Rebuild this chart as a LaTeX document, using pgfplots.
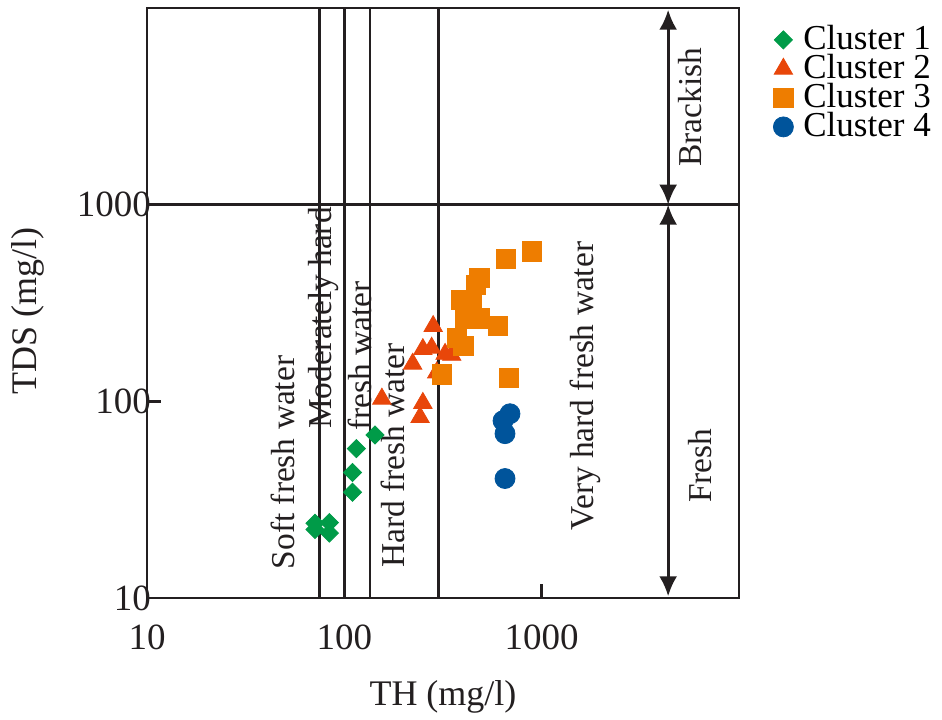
\documentclass[border=0pt]{standalone}
\usepackage{fontspec}
\setmainfont{Liberation Serif}
\usepackage{pgfplots}
\pgfplotsset{compat=1.18}
\usetikzlibrary{arrows.meta}
\definecolor{cgreen}{RGB}{0,155,72}
\definecolor{cred}{RGB}{232,70,10}
\definecolor{corange}{RGB}{238,125,0}
\definecolor{cblue}{RGB}{0,84,155}
\definecolor{cline}{RGB}{35,31,32}
\begin{document}
\begin{tikzpicture}
\useasboundingbox (-73.5pt,-60.5pt) rectangle (397.5pt,299pt);
\begin{axis}[
  at={(0pt,0pt)}, anchor=south west,
  scale only axis, width=296pt, height=295pt,
  xmode=log, ymode=log,
  xmin=10, xmax=10000, ymin=10, ymax=10000,
  xtick={10,100,1000}, xticklabels={10,100,1000},
  ytick={10,100,1000}, yticklabels={10,100,1000},
  /pgf/number format/assume math mode=true,
  tick align=inside, xtick pos=bottom, ytick pos=left,
  major tick length=7pt, minor tick length=0pt,
  tick style={line width=1.4pt, cline},
  axis line style={line width=1.4pt, cline},
  ticklabel style={font=\fontsize{18.5}{18.5}\selectfont, text=cline},
  xticklabel style={yshift=-10pt},
  yticklabel style={xshift=5.5pt},
  xlabel={TH (mg/l)}, ylabel={TDS (mg/l)},
  label style={font=\fontsize{18}{18}\selectfont, text=cline},
  xlabel style={at={(axis description cs:0.5,-0.168)}, anchor=center},
  ylabel style={at={(axis description cs:-0.201,0.486)}, anchor=center},
  legend style={at={(1,1)}, anchor=north west, xshift=17pt, yshift=-8.5pt,
    draw=none, fill=none, font=\fontsize{17.5}{17.5}\selectfont,
    row sep=0pt, column sep=4.5pt, inner sep=0pt,
    nodes={inner sep=0.5pt, text height=11.5pt, text depth=2pt}},
  legend cell align=left,
  legend image code/.code={\draw[mark repeat=2,mark phase=2,#1] plot coordinates {(0cm,0cm) (0.22cm,0cm) (0.44cm,0cm)};},
]
% Cluster 1
\addplot[only marks, mark=square*, mark size=3.2pt, mark options={rotate=45, fill=cgreen, draw=cgreen}] coordinates {
(71,24.0) (71,22.3) (84,24.2) (84,21.4) (110,34.5) (110,43.5) (115,57.5) (143,67.5)
};
\addlegendentry{Cluster 1}
% Cluster 2
\addplot[only marks, mark=triangle*, mark size=5.3pt, mark options={fill=cred, draw=cred}] coordinates {
(282,241) (250,184) (277,187) (222,155) (324,174) (350,172) (294,140) (155,103) (250,98) (242,83)
};
\addlegendentry{Cluster 2}
% Cluster 3
\addplot[only marks, mark=square*, mark size=4.8pt, mark options={fill=corange, draw=corange}] coordinates {
(889,578) (657,528) (483,424) (463,392) (389,327) (445,327) (409,264) (483,264) (599,241) (371,210) (401,191) (312,137) (685,131)
};
\addlegendentry{Cluster 3}
% Cluster 4
\addplot[only marks, mark=*, mark size=5pt, mark options={fill=cblue, draw=cblue}] coordinates {
(691,86.5) (637,79.7) (652,68.5) (652,40.5)
};
\addlegendentry{Cluster 4}
% class boundaries
\addplot[forget plot, line width=1.4pt, cline] coordinates {(75,10) (75,10000)};
\addplot[forget plot, line width=1.4pt, cline] coordinates {(100,10) (100,10000)};
\addplot[forget plot, line width=1.4pt, cline] coordinates {(135,10) (135,10000)};
\addplot[forget plot, line width=1.4pt, cline] coordinates {(300,10) (300,10000)};
\addplot[forget plot, line width=1.4pt, cline] coordinates {(10,1000) (10000,1000)};
% arrows
\draw[line width=1.4pt, cline, {Latex[length=10pt,width=9pt]}-{Latex[length=10pt,width=9pt]}] (axis cs:4375,9800) -- (axis cs:4375,1000);
\draw[line width=1.4pt, cline, {Latex[length=10pt,width=9pt]}-{Latex[length=10pt,width=9pt]}] (axis cs:4375,1000) -- (axis cs:4375,10.2);
% labels
\node[rotate=90, font=\fontsize{16.7}{16.7}\selectfont, text=cline] at (axis cs:49,48.9) {Soft fresh water};
\node[rotate=90, font=\fontsize{16.7}{16.7}\selectfont, text=cline] at (axis cs:78.2,265) {Moderately hard};
\node[rotate=90, font=\fontsize{16.7}{16.7}\selectfont, text=cline] at (axis cs:120,170) {fresh water};
\node[rotate=90, font=\fontsize{16.7}{16.7}\selectfont, text=cline] at (axis cs:176.6,53) {Hard fresh water};
\node[rotate=90, font=\fontsize{16.7}{16.7}\selectfont, text=cline] at (axis cs:1656,119.7) {Very hard fresh water};
\node[rotate=90, font=\fontsize{16.7}{16.7}\selectfont, text=cline] at (axis cs:5636,3133) {Brackish};
\node[rotate=90, font=\fontsize{16.7}{16.7}\selectfont, text=cline] at (axis cs:6339,47.1) {Fresh};
\end{axis}
\end{tikzpicture}
\end{document}
